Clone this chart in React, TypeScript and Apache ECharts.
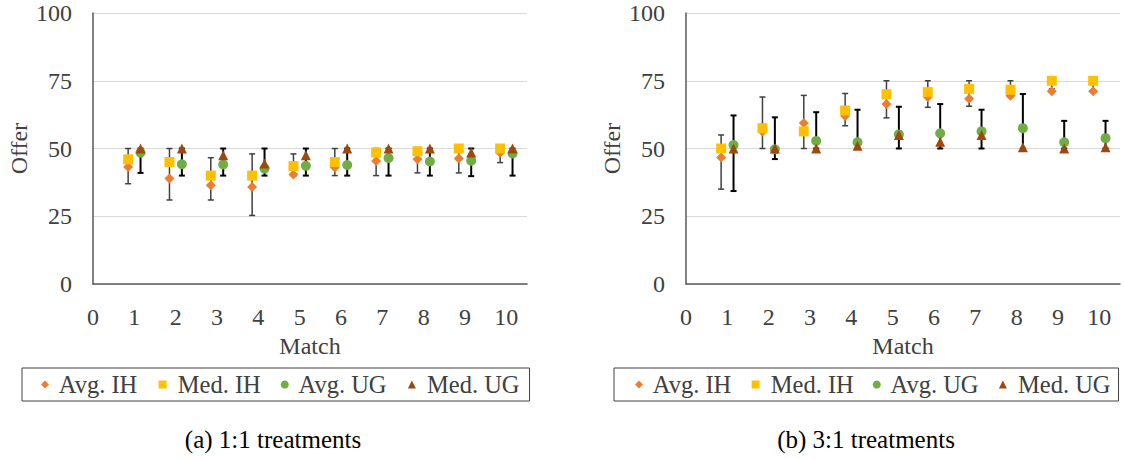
import React, { useEffect, useRef } from "react";
import * as echarts from "echarts";

const matches = [1, 2, 3, 4, 5, 6, 7, 8, 9, 10];
const seriesNames = ["Avg. IH", "Med. IH", "Avg. UG", "Med. UG"];
const xTickLabels = ["0", "1", "2", "3", "4", "5", "6", "7", "8", "9", "10"];
const captions = ["(a) 1:1 treatments", "(b) 3:1 treatments"];

// 1:1 treatments
const avgIH1 = [43.2, 38.9, 36.4, 35.8, 40.4, 43.0, 45.4, 46.0, 46.3, 48.4];
const medIH1 = [46, 45, 40, 40, 43.5, 45, 48.5, 49, 50, 50];
const avgUG1 = [48.5, 44.2, 44.1, 42.6, 43.6, 43.9, 46.5, 45.2, 45.5, 48.2];
const medUG1 = [50, 50, 47.5, 44.5, 47.5, 50, 50, 50, 48.5, 50];
const lowIH1 = [37, 31, 31, 25.3, 40, 40, 40, 41, 41, 44.8];
const highIH1 = [50, 50, 46.6, 48, 48, 50, 50, 50, 50, 50];
const lowUG1 = [41, 40, 40, 40, 40, 40, 40, 40, 39.8, 40];
const highUG1 = [50, 50, 50, 50, 50, 50, 50, 50, 50, 50];

// 3:1 treatments
const avgIH3 = [46.7, 56.3, 59.4, 62, 66.4, 69, 68.4, 69.5, 71.1, 71.1];
const medIH3 = [50, 57.5, 56.3, 64, 70, 70.8, 72, 71.7, 75, 75];
const avgUG3 = [51.3, 49.7, 52.8, 52.3, 55.2, 55.6, 56.3, 57.5, 52.3, 53.8];
const medUG3 = [50, 50, 50, 51, 55, 52.5, 55, 50.5, 50, 50.5];
const lowIH3 = [35, 50, 50, 58.4, 61.3, 65.2, 65.6, 69, 72, 71.5];
const highIH3 = [55, 69, 69.6, 70.3, 75, 75, 75, 75, 75, 75];
const lowUG3 = [34.3, 46.1, 50, 50, 50, 50, 50, 50, 50, 50];
const highUG3 = [62.2, 61.5, 63.4, 64.3, 65.4, 66.4, 64.3, 70.1, 60.2, 60.2];

const OFFSET = 0.15;
const FONT = "Liberation Serif";
const TEXT_COLOR = "#404040";
const COLORS = ["#ED7D31", "#FFC000", "#70AD47", "#9E480E"];
const SYMBOLS = ["diamond", "rect", "circle", "triangle"];
const SIZES = [10, 10, 10, 10];

function errorBarSeries(gridIdx: number, low: number[], high: number[], dx: number, color: string, width: number) {
  return {
    type: "custom",
    name: "err" + gridIdx + dx,
    xAxisIndex: gridIdx,
    yAxisIndex: gridIdx,
    z: 1,
    silent: true,
    data: matches.map((m, i) => [m + dx, low[i], high[i]]),
    renderItem: (params: any, api: any) => {
      const x = api.value(0);
      const pLo = api.coord([x, api.value(1)]);
      const pHi = api.coord([x, api.value(2)]);
      const w = 3;
      const style = { stroke: color, lineWidth: width };
      return {
        type: "group",
        children: [
          { type: "line", shape: { x1: pLo[0], y1: pLo[1], x2: pHi[0], y2: pHi[1] }, style },
          { type: "line", shape: { x1: pLo[0] - w, y1: pLo[1], x2: pLo[0] + w, y2: pLo[1] }, style },
          { type: "line", shape: { x1: pHi[0] - w, y1: pHi[1], x2: pHi[0] + w, y2: pHi[1] }, style },
        ],
      };
    },
  };
}

function scatterSeries(gridIdx: number, k: number, values: number[], dx: number) {
  return {
    type: "scatter",
    name: seriesNames[k],
    xAxisIndex: gridIdx,
    yAxisIndex: gridIdx,
    z: 2,
    symbol: SYMBOLS[k],
    symbolSize: SIZES[k],
    itemStyle: { color: COLORS[k], opacity: 1 },
    data: matches.map((m, i) => [m + dx, values[i]]),
  };
}

export default function App() {
  const ref = useRef<HTMLDivElement>(null);
  useEffect(() => {
    if (!ref.current) return;
    const chart = echarts.init(ref.current, null, { renderer: "svg" });
    const grids = [
      { left: 93, top: 13, width: 434, height: 271 },
      { left: 686, top: 13, width: 434, height: 271 },
    ];
    const xAxes = [0, 1].map((g) => ({
      type: "value",
      gridIndex: g,
      min: 0,
      max: 10.5,
      interval: 1,
      splitLine: { show: false },
      axisTick: { show: false },
      axisLine: { show: true, lineStyle: { color: "#595959", width: 1.5 } },
      axisLabel: {
        color: TEXT_COLOR,
        fontSize: 24,
        fontFamily: FONT,
        margin: 21,
        showMaxLabel: false,
        formatter: (v: number) => (Number.isInteger(v) && v <= 10 ? xTickLabels[v] : ""),
      },
      name: "Match",
      nameLocation: "middle",
      nameGap: 49,
      nameTextStyle: { color: TEXT_COLOR, fontSize: 24, fontFamily: FONT },
    }));
    const yAxes = [0, 1].map((g) => ({
      type: "value",
      gridIndex: g,
      min: 0,
      max: 100,
      interval: 25,
      splitLine: { show: true, lineStyle: { color: "#d9d9d9", width: 1 } },
      axisTick: { show: false },
      axisLine: { show: true, lineStyle: { color: "#595959", width: 1.5 } },
      axisLabel: { color: TEXT_COLOR, fontSize: 24, fontFamily: FONT, margin: 21 },
      name: "Offer",
      nameLocation: "middle",
      nameRotate: 90,
      nameGap: 62,
      nameTextStyle: { color: TEXT_COLOR, fontSize: 24, fontFamily: FONT },
    }));
    const legendData = seriesNames.map((n, k) => ({ name: n, icon: SYMBOLS[k] }));
    const legendBase = {
      orient: "horizontal",
      top: 368,
      itemWidth: 8,
      itemHeight: 8,
      borderColor: "#404040",
      borderWidth: 1,
      borderRadius: 0,
      selectedMode: false,
      data: legendData,
      formatter: (name: string) => " " + name,
    };
    const option: any = {
      animation: false,
      textStyle: { fontFamily: FONT },
      grid: grids,
      xAxis: xAxes,
      yAxis: yAxes,
      legend: [
        {
          ...legendBase,
          left: 22,
          width: 490,
          padding: [4, 10, 4, 19],
          itemGap: 20,
          textStyle: { color: TEXT_COLOR, fontSize: 24.5, fontFamily: FONT },
        },
        {
          ...legendBase,
          left: 614,
          width: 485,
          padding: [4, 8, 4, 21],
          itemGap: 19,
          textStyle: { color: TEXT_COLOR, fontSize: 24.5, fontFamily: FONT },
        },
      ],
      graphic: [
        {
          type: "text",
          x: 273,
          y: 439,
          style: { text: captions[0], fill: "#000", fontSize: 25, fontFamily: FONT, align: "center", verticalAlign: "middle" },
        },
        {
          type: "text",
          x: 866,
          y: 439,
          style: { text: captions[1], fill: "#000", fontSize: 25, fontFamily: FONT, align: "center", verticalAlign: "middle" },
        },
      ],
      series: [
        errorBarSeries(0, lowIH1, highIH1, -OFFSET, "#404040", 1.5),
        errorBarSeries(0, lowUG1, highUG1, OFFSET, "#000000", 2),
        scatterSeries(0, 0, avgIH1, -OFFSET),
        scatterSeries(0, 1, medIH1, -OFFSET),
        scatterSeries(0, 2, avgUG1, OFFSET),
        scatterSeries(0, 3, medUG1, OFFSET),
        errorBarSeries(1, lowIH3, highIH3, -OFFSET, "#404040", 1.5),
        errorBarSeries(1, lowUG3, highUG3, OFFSET, "#000000", 2),
        scatterSeries(1, 0, avgIH3, -OFFSET),
        scatterSeries(1, 1, medIH3, -OFFSET),
        scatterSeries(1, 2, avgUG3, OFFSET),
        scatterSeries(1, 3, medUG3, OFFSET),
      ],
    };
    chart.setOption(option);
    return () => chart.dispose();
  }, []);
  return (
    <div
      ref={ref}
      style={{ position: "absolute", left: 0, top: 0, width: 1124, height: 459, background: "#fff" }}
    />
  );
}
